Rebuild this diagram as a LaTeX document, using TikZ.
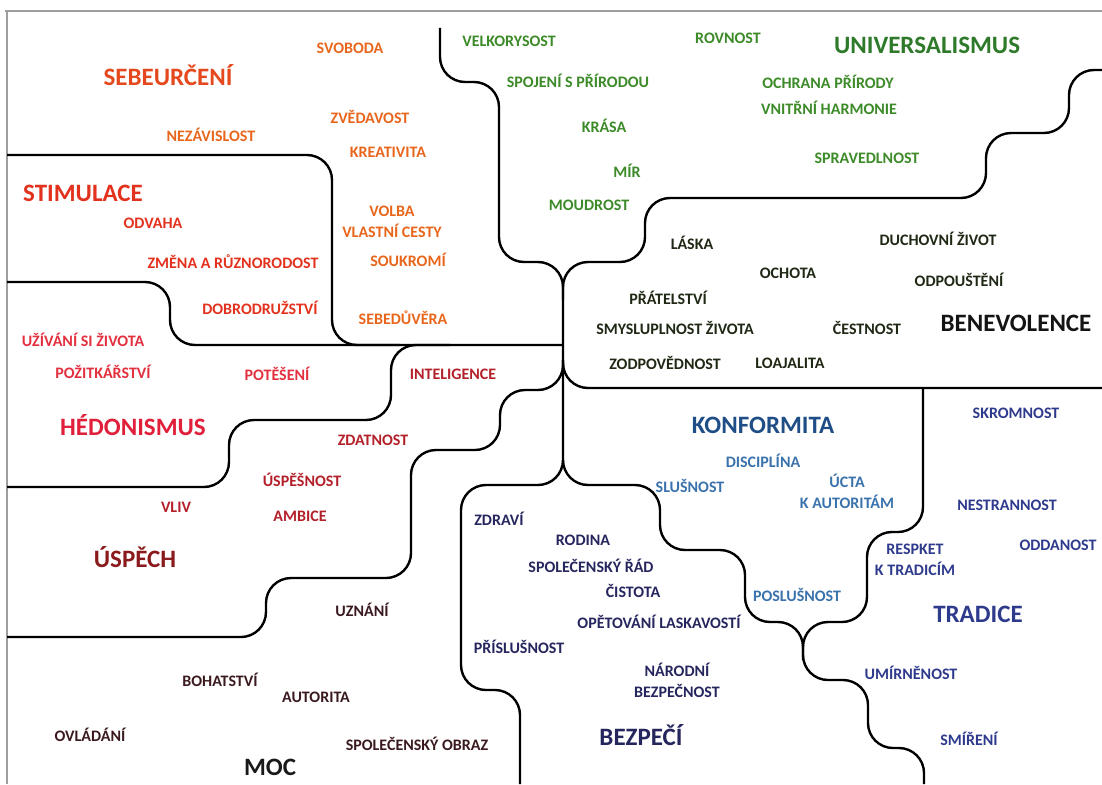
\documentclass[tikz,border=0pt]{standalone}
\usepackage{fontspec}
\setmainfont{Carlito}
\usetikzlibrary{calc}
\definecolor{cSebe}{HTML}{E4481C}
\definecolor{cSd}{HTML}{E8661C}
\definecolor{cStim}{HTML}{E2321E}
\definecolor{cHed}{HTML}{E2303F}
\definecolor{cHedBig}{HTML}{E0203A}
\definecolor{cAch}{HTML}{B3202A}
\definecolor{cAchBig}{HTML}{8A1A1C}
\definecolor{cPow}{HTML}{3A1A1E}
\definecolor{cUni}{HTML}{3C8A28}
\definecolor{cUniBig}{HTML}{2E7A2A}
\definecolor{cBen}{HTML}{1E2814}
\definecolor{cConf}{HTML}{3A72AC}
\definecolor{cConfBig}{HTML}{1F4E86}
\definecolor{cTrad}{HTML}{2E3A8C}
\definecolor{cSec}{HTML}{26265E}
\tikzset{
	wall/.style={line width=2.4pt, rounded corners=25pt},
	frame/.style={line width=1.6pt, color=black!38},
	val/.style={font=\bfseries\fontsize{16}{21}\selectfont, inner sep=0pt, align=center},
	big/.style={font=\bfseries\fontsize{25}{28}\selectfont, inner sep=0pt},
}
\begin{document}
\begin{tikzpicture}[x=1pt, y=-1pt]
	\useasboundingbox (0,0) rectangle (1102,784);
	\coordinate (hub) at (563,345);
	\coordinate (fork) at (563,485);
	\coordinate (knot) at (803,622);
	\draw[frame] (5,11) -- (1102,11);
	\draw[frame] (7,11) -- (7,784);

	\draw[wall] (440,28) -- (440,82) -- (499,82) -- (499,262) -- (563,262) -- (fork) -- (461,485) -- (461,690) -- (520,690) -- (520,784);
	\draw[wall] (563,300) -- (563,262) -- (645,262) -- (645,198) -- (986,198) -- (986,133) -- (1069,133) -- (1069,70) -- (1102,70);
	\draw[wall] (563,360) -- (563,388) -- (1102,388);
	\draw[wall] (7,155) -- (332,155) -- (332,345) -- (400,345);
	\draw[wall] (7,282) -- (170,282) -- (170,345) -- (hub);
	\draw[wall] (7,487) -- (229,487) -- (229,420) -- (391,420) -- (391,345) -- (450,345);
	\draw[wall] (7,637) -- (266,637) -- (266,578) -- (411,578) -- (411,450) -- (500,450) -- (500,390) -- (563,390) -- (563,360);
	\draw[wall] (563,460) -- (fork) -- (660,485) -- (660,550) -- (745,550) -- (745,622) -- (knot) -- (803,680) -- (868,680) -- (868,748) -- (924,748) -- (924,784);
	\draw[wall] (923,388) -- (923,532) -- (867,532) -- (867,622) -- (knot) -- (803,660);

	\node[big, cSebe] (sebeurceni) at (168,75) {SEBEURČENÍ};
	\node[val, cSd] (svoboda) at (350,48) {SVOBODA};
	\node[val, cSd] (nezavislost) at (211,135) {NEZÁVISLOST};
	\node[val, cSd] (zvedavost) at (370,117) {ZVĚDAVOST};
	\node[val, cSd] (kreativita) at (388,152) {KREATIVITA};
	\node[val, cSd] (volba) at (392,222) {VOLBA\\VLASTNÍ CESTY};
	\node[val, cSd] (soukromi) at (408,260) {SOUKROMÍ};
	\node[val, cSd] (sebeduvera) at (403,318) {SEBEDŮVĚRA};

	\node[big, cStim] (stimulace) at (83,193) {STIMULACE};
	\node[val, cStim] (odvaha) at (153,223) {ODVAHA};
	\node[val, cStim] (zmena) at (233,262) {ZMĚNA A RŮZNORODOST};
	\node[val, cStim] (dobrodruzstvi) at (260,308) {DOBRODRUŽSTVÍ};

	\node[val, cHed] (uzivani) at (83,340) {UŽÍVÁNÍ SI ŽIVOTA};
	\node[val, cHed] (pozitkarstvi) at (103,372) {POŽITKÁŘSTVÍ};
	\node[val, cHed] (poteseni) at (277,374) {POTĚŠENÍ};
	\node[big, cHedBig] (hedonismus) at (133,425) {HÉDONISMUS};

	\node[val, cAch] (inteligence) at (453,374) {INTELIGENCE};
	\node[val, cAch] (zdatnost) at (373,440) {ZDATNOST};
	\node[val, cAch] (uspesnost) at (302,480) {ÚSPĚŠNOST};
	\node[val, cAch] (vliv) at (176,507) {VLIV};
	\node[val, cAch] (ambice) at (300,516) {AMBICE};
	\node[big, cAchBig] (uspech) at (135,557) {ÚSPĚCH};

	\node[val, cPow] (uznani) at (362,610) {UZNÁNÍ};
	\node[val, cPow] (bohatstvi) at (220,680) {BOHATSTVÍ};
	\node[val, cPow] (autorita) at (316,697) {AUTORITA};
	\node[val, cPow] (ovladani) at (90,735) {OVLÁDÁNÍ};
	\node[val, cPow] (obraz) at (417,744) {SPOLEČENSKÝ OBRAZ};
	\node[big, black!90] (moc) at (270,767) {MOC};

	\node[val, cUni] (velkorysost) at (509,41) {VELKORYSOST};
	\node[val, cUni] (rovnost) at (728,38) {ROVNOST};
	\node[big, cUniBig] (universalismus) at (927,45) {UNIVERSALISMUS};
	\node[val, cUni] (spojeni) at (578,81) {SPOJENÍ S PŘÍRODOU};
	\node[val, cUni] (ochrana) at (828,82) {OCHRANA PŘÍRODY};
	\node[val, cUni] (harmonie) at (829,108) {VNITŘNÍ HARMONIE};
	\node[val, cUni] (krasa) at (604,126) {KRÁSA};
	\node[val, cUni] (spravedlnost) at (867,158) {SPRAVEDLNOST};
	\node[val, cUni] (mir) at (627,171) {MÍR};
	\node[val, cUni] (moudrost) at (589,205) {MOUDROST};

	\node[val, cBen] (laska) at (692,243) {LÁSKA};
	\node[val, cBen] (duchovni) at (938,239) {DUCHOVNÍ ŽIVOT};
	\node[val, cBen] (ochota) at (788,273) {OCHOTA};
	\node[val, cBen] (odpousteni) at (959,280) {ODPOUŠTĚNÍ};
	\node[val, cBen] (pratelstvi) at (668,298) {PŘÁTELSTVÍ};
	\node[val, cBen] (smysluplnost) at (675,328) {SMYSLUPLNOST ŽIVOTA};
	\node[val, cBen] (cestnost) at (867,328) {ČESTNOST};
	\node[big, black!92] (benevolence) at (1016,323) {BENEVOLENCE};
	\node[val, cBen] (zodpovednost) at (665,363) {ZODPOVĚDNOST};
	\node[val, cBen] (loajalita) at (790,363) {LOAJALITA};

	\node[big, cConfBig] (konformita) at (763,425) {KONFORMITA};
	\node[val, cConf] (disciplina) at (763,461) {DISCIPLÍNA};
	\node[val, cConf] (slusnost) at (690,486) {SLUŠNOST};
	\node[val, cConf] (ucta) at (847,491) {ÚCTA\\K AUTORITÁM};
	\node[val, cConf] (poslusnost) at (797,595) {POSLUŠNOST};

	\node[val, cTrad] (skromnost) at (1016,413) {SKROMNOST};
	\node[val, cTrad] (nestrannost) at (1007,505) {NESTRANNOST};
	\node[val, cTrad] (oddanost) at (1058,545) {ODDANOST};
	\node[val, cTrad] (respekt) at (915,560) {RESPKET\\K TRADICÍM};
	\node[big, cTrad] (tradice) at (978,614) {TRADICE};
	\node[val, cTrad] (umirnenost) at (911,673) {UMÍRNĚNOST};
	\node[val, cTrad] (smireni) at (969,739) {SMÍŘENÍ};

	\node[val, cSec] (zdravi) at (499,519) {ZDRAVÍ};
	\node[val, cSec] (rodina) at (583,540) {RODINA};
	\node[val, cSec] (rad) at (591,566) {SPOLEČENSKÝ ŘÁD};
	\node[val, cSec] (cistota) at (633,591) {ČISTOTA};
	\node[val, cSec] (laskavost) at (659,622) {OPĚTOVÁNÍ LASKAVOSTÍ};
	\node[val, cSec] (prislusnost) at (519,647) {PŘÍSLUŠNOST};
	\node[val, cSec] (narodni) at (677,680) {NÁRODNÍ\\BEZPEČNOST};
	\node[big, cSec] (bezpeci) at (641,735) {BEZPEČÍ};
\end{tikzpicture}
\end{document}
